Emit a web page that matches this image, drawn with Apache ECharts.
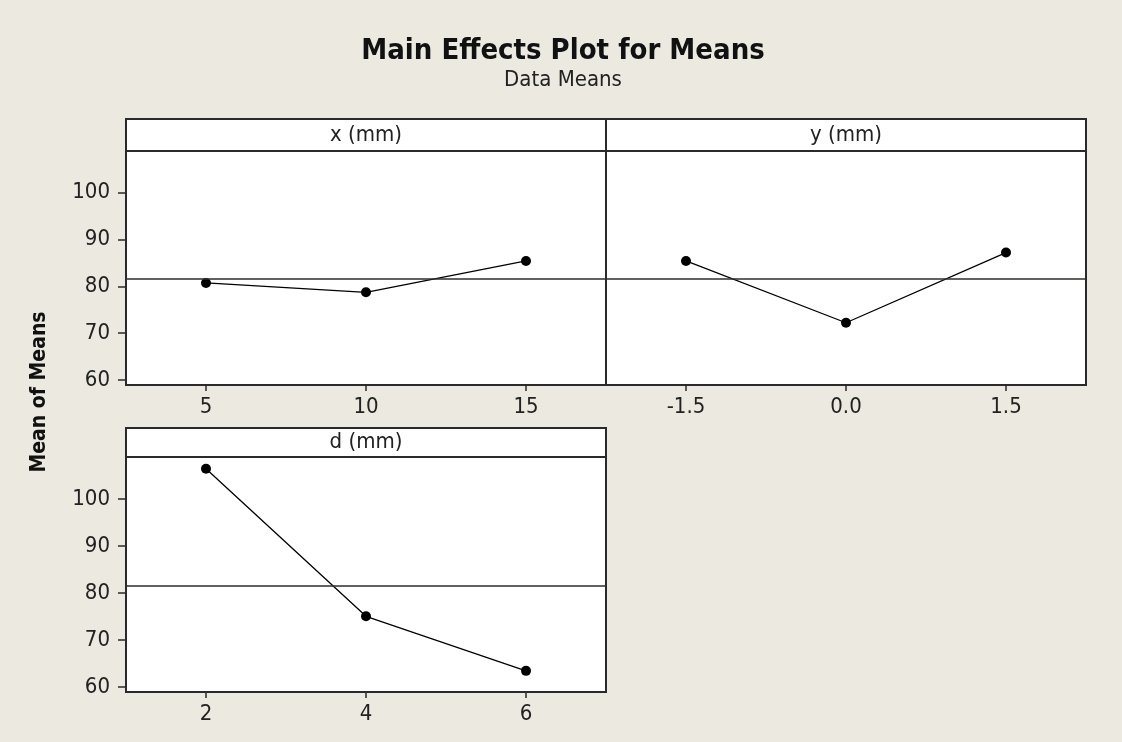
<!DOCTYPE html>
<html>
<head>
<meta charset="utf-8">
<title>Main Effects Plot for Means</title>
<script src="https://cdn.jsdelivr.net/npm/echarts@6/dist/echarts.min.js"></script>
<style>
  html, body { margin: 0; padding: 0; background: #ECE9E0; }
  #chart { width: 1122px; height: 742px; }
</style>
</head>
<body>
<div id="chart"></div>
<script>
// Factor levels shown under each panel
const xLevels = ['5', '10', '15'];
const yLevels = ['-1.5', '0.0', '1.5'];
const dLevels = ['2', '4', '6'];

// Mean response at each factor level
const xMeans = [80.7, 78.7, 85.4];
const yMeans = [85.4, 72.2, 87.2];
const dMeans = [106.4, 75.0, 63.4];

// Shared vertical scale
const yTicks = [60, 70, 80, 90, 100];

// Panel headers
const panelTitles = ['x (mm)', 'y (mm)', 'd (mm)'];

// Overall mean of the data means (reference line in every panel)
const allMeans = xMeans.concat(yMeans, dMeans);
const grandMean = allMeans.reduce((a, b) => a + b, 0) / allMeans.length;

const FONT = "'DejaVu Sans Condensed', 'DejaVu Sans', sans-serif";
const INK = '#222';
const FRAME = '#2a2a2a';

const panels = [
  { levels: xLevels, values: xMeans, grid: { left: 126, top: 151, width: 480, height: 234 }, showY: true },
  { levels: yLevels, values: yMeans, grid: { left: 606, top: 151, width: 480, height: 234 }, showY: false },
  { levels: dLevels, values: dMeans, grid: { left: 126, top: 457, width: 480, height: 235 }, showY: true }
];
const headers = [
  { x: 126, y: 119, w: 480, h: 32 },
  { x: 606, y: 119, w: 480, h: 32 },
  { x: 126, y: 428, w: 480, h: 29 }
];

const chart = echarts.init(document.getElementById('chart'), null, { renderer: 'canvas' });

const option = {
  animation: false,
  backgroundColor: '#ECE9E0',
  grid: panels.map(p => Object.assign({
    show: true,
    backgroundColor: '#fff',
    borderColor: FRAME,
    borderWidth: 2,
    containLabel: false
  }, p.grid)),
  xAxis: panels.map((p, i) => ({
    type: 'category',
    gridIndex: i,
    data: p.levels,
    boundaryGap: true,
    axisLine: { show: false },
    axisTick: { show: true, alignWithLabel: true, length: 6, lineStyle: { color: FRAME, width: 1.5 } },
    axisLabel: { margin: 11, fontSize: 22, color: INK, fontFamily: FONT },
    splitLine: { show: false }
  })),
  yAxis: panels.map((p, i) => ({
    type: 'value',
    gridIndex: i,
    min: 58.9,
    max: 108.9,
    axisLine: { show: false },
    splitLine: { show: false },
    axisTick: { show: p.showY, length: 8, customValues: yTicks, lineStyle: { color: FRAME, width: 1.5 } },
    axisLabel: { show: p.showY, customValues: yTicks, margin: 16, fontSize: 22, color: INK, fontFamily: FONT }
  })),
  series: panels.map((p, i) => ({
    type: 'line',
    xAxisIndex: i,
    yAxisIndex: i,
    data: p.values,
    symbol: 'circle',
    symbolSize: 10,
    itemStyle: { color: '#000' },
    lineStyle: { color: '#000', width: 1.3 },
    markLine: {
      silent: true,
      symbol: ['none', 'none'],
      label: { show: false },
      lineStyle: { color: '#2e2e2e', width: 1.5, type: 'solid' },
      data: [{ yAxis: grandMean }]
    }
  })),
  graphic: [
    {
      type: 'text', x: 563, y: 51,
      style: { text: 'Main Effects Plot for Means', fontSize: 29, fontWeight: 'bold', fontFamily: FONT,
               fill: '#111', align: 'center', verticalAlign: 'middle' }
    },
    {
      type: 'text', x: 563, y: 80,
      style: { text: 'Data Means', fontSize: 22, fontFamily: FONT, fill: INK, align: 'center', verticalAlign: 'middle' }
    },
    {
      type: 'text', x: 40, y: 392, rotation: Math.PI / 2,
      style: { text: 'Mean of Means', fontSize: 21, fontWeight: 'bold', fontFamily: FONT, fill: '#111',
               align: 'center', verticalAlign: 'middle' }
    }
  ].concat(headers.map(h => ({
    type: 'rect', z: 10,
    shape: { x: h.x, y: h.y, width: h.w, height: h.h },
    style: { fill: '#fff', stroke: FRAME, lineWidth: 2 }
  }))).concat(headers.map((h, i) => ({
    type: 'text', z: 11,
    x: h.x + h.w / 2, y: h.y + h.h / 2,
    style: { text: panelTitles[i], fontSize: 22, fontFamily: FONT, fill: INK, align: 'center', verticalAlign: 'middle' }
  })))
};

chart.setOption(option);
</script>
</body>
</html>
